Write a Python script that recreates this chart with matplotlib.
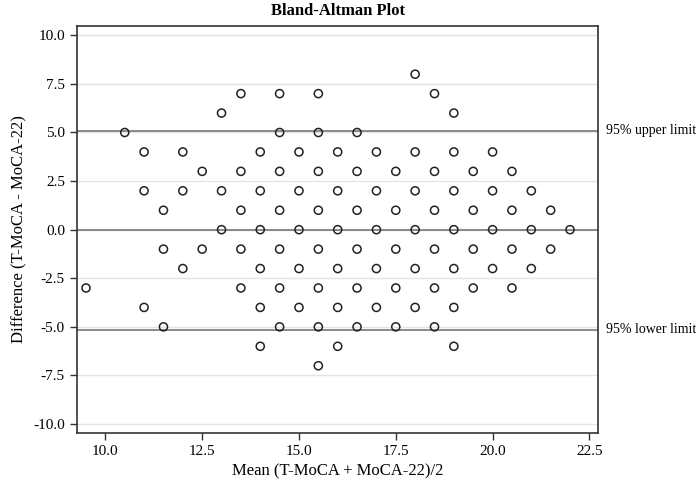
import matplotlib
matplotlib.use('Agg')
import matplotlib.pyplot as plt
import numpy as np

plt.rcParams['font.family'] = ['Liberation Serif', 'DejaVu Serif']

# difference values (rows) and the mean values found on each row
diff_rows = [8, 7, 6, 5, 4, 3, 2, 1, 0, -1, -2, -3, -4, -5, -6, -7]
mean_rows = [
    [18.0],
    [13.5, 14.5, 15.5, 18.5],
    [13.0, 19.0],
    [10.5, 14.5, 15.5, 16.5],
    [11, 12, 14, 15, 16, 17, 18, 19, 20],
    [12.5, 13.5, 14.5, 15.5, 16.5, 17.5, 18.5, 19.5, 20.5],
    [11, 12, 13, 14, 15, 16, 17, 18, 19, 20, 21],
    [11.5, 13.5, 14.5, 15.5, 16.5, 17.5, 18.5, 19.5, 20.5, 21.5],
    [13, 14, 15, 16, 17, 18, 19, 20, 21, 22],
    [11.5, 12.5, 13.5, 14.5, 15.5, 16.5, 17.5, 18.5, 19.5, 20.5, 21.5],
    [12, 14, 15, 16, 17, 18, 19, 20, 21],
    [9.5, 13.5, 14.5, 15.5, 16.5, 17.5, 18.5, 19.5, 20.5],
    [11, 14, 15, 16, 17, 18, 19],
    [11.5, 14.5, 15.5, 16.5, 17.5, 18.5],
    [14, 16, 19],
    [15.5],
]

mean_diff = 0.0
upper_limit = 5.1
lower_limit = -5.15

xs = []
ys = []
for d, row in zip(diff_rows, mean_rows):
    for m in row:
        xs.append(m)
        ys.append(d)

fig = plt.figure(figsize=(7, 4.95), dpi=100)
ax = fig.add_axes([0.1096, 0.1253, 0.7451, 0.8222])

ax.set_xlim(9.26, 22.73)
ax.set_ylim(-10.46, 10.48)
ax.set_xticks([10.0, 12.5, 15.0, 17.5, 20.0, 22.5])
ax.set_yticks([-10.0, -7.5, -5.0, -2.5, 0.0, 2.5, 5.0, 7.5, 10.0])
ax.xaxis.set_major_formatter(matplotlib.ticker.FormatStrFormatter('%.1f'))
ax.yaxis.set_major_formatter(matplotlib.ticker.FormatStrFormatter('%.1f'))
ax.tick_params(labelsize=11, length=5, width=1, color='#333333', direction='out')
ax.grid(axis='y', color='#e4e4e4', linewidth=1)
ax.set_axisbelow(True)

for sp in ax.spines.values():
    sp.set_color('#333333')
    sp.set_linewidth(1.2)

for yv in [upper_limit, mean_diff, lower_limit]:
    ax.axhline(yv, color='#777777', linewidth=1.2, zorder=2)

ax.scatter(xs, ys, s=34, facecolors='none', edgecolors='#222222', linewidths=1.1, zorder=3)

ax.text(22.92, upper_limit, '95% upper limit', fontsize=10, va='center', ha='left')
ax.text(22.92, lower_limit, '95% lower limit', fontsize=10, va='center', ha='left')

ax.set_title('Bland-Altman Plot', fontsize=12, fontweight='bold', pad=8)
ax.set_xlabel('Mean (T-MoCA + MoCA-22)/2', fontsize=12, labelpad=4)
ax.set_ylabel('Difference (T-MoCA - MoCA-22)', fontsize=12, labelpad=4)

plt.savefig('out.png', dpi=100)
